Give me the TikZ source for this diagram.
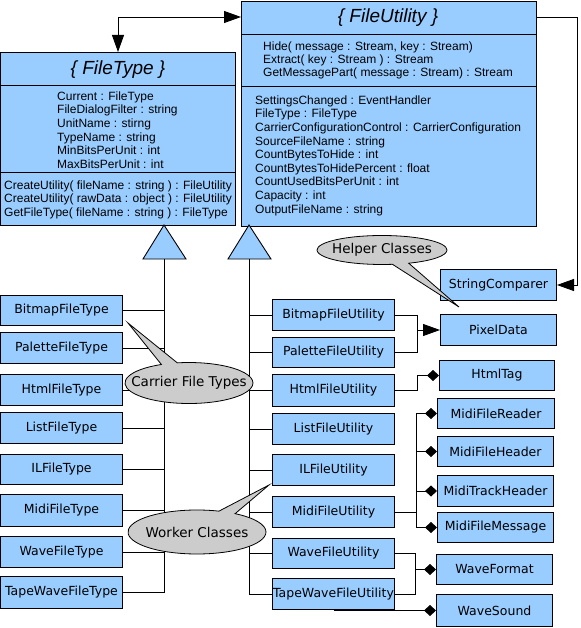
\documentclass[tikz,border=0pt]{standalone}
\usepackage{fontspec}
\setmainfont{DejaVu Sans}
\newfontfamily\libfont{Liberation Sans}
\usetikzlibrary{arrows.meta,shapes.callouts,shapes.geometric}
\definecolor{boxblue}{RGB}{153,204,255}
\definecolor{callgray}{RGB}{204,204,204}
\begin{document}
\begin{tikzpicture}[x=1pt,y=-1pt,
  cls/.style={draw, fill=boxblue, line width=1pt, inner sep=0pt, anchor=north west,
    font=\fontsize{12.5}{14}\selectfont},
  bigbox/.style={draw, fill=boxblue, line width=1pt, inner sep=0pt, anchor=north west},
  ttl/.style={inner sep=0pt, font=\libfont\itshape\fontsize{19}{21}\selectfont},
  attr/.style={inner sep=0pt, anchor=west, align=left, font=\libfont\fontsize{12}{13.6}\selectfont},
  conn/.style={line width=0.9pt},
  tri/.style={-{Triangle[length=17pt,width=12pt]}},
  dia/.style={-{Diamond[length=12pt,width=11pt]}},
  gen/.style={draw, fill=boxblue, line width=0.9pt},
  call/.style={ellipse callout, draw, fill=callgray, line width=0.8pt, inner sep=0pt,
    font=\fontsize{13.5}{15}\selectfont}]
\useasboundingbox (0,0) rectangle (580,628);

% ---- FileType ----
\node[bigbox, minimum width=235pt, minimum height=173pt] (ft) at (0,52) {};
\draw[line width=1pt] ([yshift=-34pt]ft.north west) -- ([yshift=-34pt]ft.north east);
\draw[line width=1pt] ([yshift=-121pt]ft.north west) -- ([yshift=-121pt]ft.north east);
\node[ttl] (ftt) at (118,70) {\{ FileType \}};
\node[attr] (fta) at (57,130) {Current : FileType\\FileDialogFilter : string\\UnitName : stirng\\TypeName : string\\MinBitsPerUnit : int\\MaxBitsPerUnit : int};
\node[attr] (ftm) at (4,199.5) {CreateUtility( fileName : string ) : FileUtility\\CreateUtility( rawData : object ) : FileUtility\\GetFileType( fileName : string ) : FileType};

% ---- FileUtility ----
\node[bigbox, minimum width=295pt, minimum height=225pt] (fu) at (241,1) {};
\draw[line width=1pt] ([yshift=-34pt]fu.north west) -- ([yshift=-34pt]fu.north east);
\draw[line width=1pt] ([yshift=-86pt]fu.north west) -- ([yshift=-86pt]fu.north east);
\node[ttl] (fut) at (388,18) {\{ FileUtility \}};
\node[attr, font=\libfont\fontsize{12}{13}\selectfont] (fum) at (263,60) {Hide( message : Stream, key : Stream)\\Extract( key : Stream ) : Stream\\GetMessagePart( message : Stream) : Stream};
\node[attr] (fua) at (255,155.5) {SettingsChanged : EventHandler\\FileType : FileType\\CarrierConfigurationControl : CarrierConfiguration\\SourceFileName : string\\CountBytesToHide : int\\CountBytesToHidePercent : float\\CountUsedBitsPerUnit : int\\Capacity : int\\OutputFileName : string};

% ---- file type classes ----
\node[cls, minimum width=122pt, minimum height=30pt] (bmt) at (0,295) {BitmapFileType};
\node[cls, minimum width=122pt, minimum height=31pt] (pat) at (0,332) {PaletteFileType};
\node[cls, minimum width=122pt, minimum height=31pt] (htt) at (0,374) {HtmlFileType};
\node[cls, minimum width=122pt, minimum height=31pt] (lit) at (0,412) {ListFileType};
\node[cls, minimum width=122pt, minimum height=30pt] (ilt) at (0,454) {ILFileType};
\node[cls, minimum width=122pt, minimum height=32pt] (mit) at (0,494) {MidiFileType};
\node[cls, minimum width=122pt, minimum height=31pt] (wat) at (0,536) {WaveFileType};
\node[cls, minimum width=122pt, minimum height=32pt] (tat) at (0,576) {TapeWaveFileType};

% ---- file utility classes ----
\node[cls, minimum width=122pt, minimum height=31pt] (bmu) at (272,299) {BitmapFileUtility};
\node[cls, minimum width=122pt, minimum height=30pt] (pau) at (272,337) {PaletteFileUtility};
\node[cls, minimum width=122pt, minimum height=32pt] (htu) at (272,374) {HtmlFileUtility};
\node[cls, minimum width=122pt, minimum height=31pt] (liu) at (272,413) {ListFileUtility};
\node[cls, minimum width=122pt, minimum height=31pt] (ilu) at (272,454) {ILFileUtility};
\node[cls, minimum width=122pt, minimum height=31pt] (miu) at (272,496) {MidiFileUtility};
\node[cls, minimum width=122pt, minimum height=30pt] (wau) at (272,538) {WaveFileUtility};
\node[cls, minimum width=122pt, minimum height=31pt] (tau) at (272,578) {TapeWaveFileUtility};

% ---- helper classes ----
\node[cls, minimum width=116pt, minimum height=31pt] (sc) at (440,269) {StringComparer};
\node[cls, minimum width=116pt, minimum height=31pt] (pd) at (440,314) {PixelData};
\node[cls, minimum width=115pt, minimum height=30pt] (ht) at (439,360) {HtmlTag};
\node[cls, minimum width=117pt, minimum height=30pt] (mfr) at (437,398) {MidiFileReader};
\node[cls, minimum width=116pt, minimum height=30pt] (mfh) at (437,436) {MidiFileHeader};
\node[cls, minimum width=116pt, minimum height=31pt] (mth) at (437,475) {MidiTrackHeader};
\node[cls, minimum width=116pt, minimum height=30pt] (mfm) at (437,512) {MidiFileMessage};
\node[cls, minimum width=116pt, minimum height=30pt] (wf) at (436,554) {WaveFormat};
\node[cls, minimum width=116pt, minimum height=32pt] (ws) at (436,594) {WaveSound};

% ---- top connectors ----
\coordinate (topy) at (0,17);
\coordinate (rc) at (577,17);
\draw[conn, {Triangle[length=17pt,width=12pt]}-{Triangle[length=17pt,width=12pt]}]
  (ft.north) |- (fu.west |- topy);
\draw[conn, tri] (fu.east |- topy) -- (rc) |- (sc.east);

% ---- generalisation ----
\coordinate (g1) at (164,259);
\coordinate (g2) at (249,259);
\draw[gen] (164,225) -- (186,259) -- (143,259) -- cycle;
\draw[gen] (249,225) -- (271,259) -- (228,259) -- cycle;
\draw[conn] (g1) -- (g1 |- tat.east);
\draw[conn] (g2) -- (g2 |- tau.east);
\foreach \n in {bmt,pat,htt,lit,ilt,mit,wat,tat} \draw[conn] (\n.east) -- (\n.east -| g1);
\foreach \n in {bmu,pau,htu,liu,ilu,miu,wau,tau} \draw[conn] (\n.west) -- (\n.west -| g2);

% ---- helper connectors ----
\coordinate (j1) at (417,0);
\coordinate (j2) at (416,0);
\coordinate (j3) at (415,0);
\draw[conn] (bmu.east) -| (j1 |- pau.east) -- (pau.east);
\draw[conn, tri] (j1 |- pd.west) -- (pd.west);
\draw[conn, dia] (htu.east) -| (j1 |- ht.west) -- (ht.west);
\draw[conn] (miu.east) -- (miu.east -| j2);
\draw[conn] (j2 |- mfr.west) -- (j2 |- mfm.west);
\foreach \n in {mfr,mfh,mth,mfm} \draw[conn, dia] (j2 |- \n.west) -- (\n.west);
\draw[conn] (wau.east) -| (j3 |- tau.east) -- (tau.east);
\draw[conn, dia] (j3 |- wf.west) -- (wf.west);
\draw[conn, dia] (tau.south |- ws.west) -- (ws.west);

% ---- callouts ----
\node[call, minimum width=130pt, minimum height=29pt, callout absolute pointer={(459,307)}] (hc) at (382,250) {\makebox[0pt]{Helper Classes}};
\node[call, minimum width=128pt, minimum height=41pt, callout absolute pointer={(128,323)}] (cft) at (189,383) {\makebox[0pt]{Carrier File Types}};
\node[call, minimum width=138pt, minimum height=44pt, callout absolute pointer={(269,485)}] (wc) at (197,532) {\makebox[0pt]{Worker Classes}};
\end{tikzpicture}
\end{document}
